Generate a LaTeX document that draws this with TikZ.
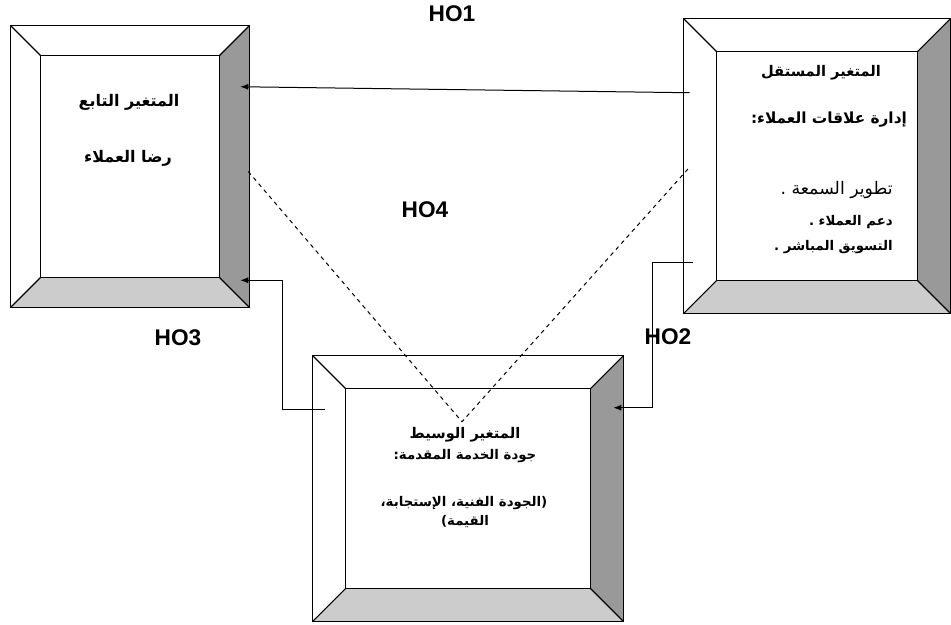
\documentclass[tikz,border=0pt]{standalone}
\usepackage{fontspec}
\setmainfont{Liberation Sans}
\newfontfamily\arabicfont[Script=Arabic]{DejaVu Sans}
\TeXXeTstate=1
\usetikzlibrary{arrows.meta,calc,fit}
\definecolor{sidegray}{HTML}{999999}
\definecolor{basegray}{HTML}{CCCCCC}
\newcommand{\artext}[1]{\beginR #1\endR}
\newcommand{\bevel}[2]{%
  \fill[sidegray] (#1.north east) -- (#1.south east) -- ([shift={(-#2,-#2)}]#1.south east) -- ([shift={(-#2,#2)}]#1.north east) -- cycle;
  \fill[basegray] (#1.south west) -- (#1.south east) -- ([shift={(-#2,-#2)}]#1.south east) -- ([shift={(#2,-#2)}]#1.south west) -- cycle;
  \draw[boxline] ([shift={(#2,#2)}]#1.north west) rectangle ([shift={(-#2,-#2)}]#1.south east);
  \draw[boxline] (#1.north west) -- ++(#2,#2) (#1.north east) -- ++(-#2,#2)
    (#1.south east) -- ++(-#2,-#2) (#1.south west) -- ++(#2,-#2);
  \draw[boxline] (#1.north west) rectangle (#1.south east);
}
\tikzset{
  boxline/.style={line width=0.8pt},
  link/.style={line width=0.75pt, -{Latex[length=6pt,width=4.5pt]}},
  guess/.style={line width=0.75pt, dashed},
  hyp/.style={font=\fontsize{17}{20}\selectfont\bfseries, inner sep=0pt},
  lbl/.style={font=\fontsize{#1}{#1}\selectfont\arabicfont\bfseries, inner sep=0pt},
  lbl/.default=10,
  item/.style={lbl=10, anchor=east},
}
\begin{document}
\begin{tikzpicture}[x=0.75pt,y=-0.75pt]
\useasboundingbox (0,0) rectangle (951,625);
\node[fit={(11,26) (249,307)}, inner sep=0pt] (dep) {};
\node[fit={(684,19) (950,313)}, inner sep=0pt] (indep) {};
\node[fit={(313,356) (623,621)}, inner sep=0pt] (med) {};
\bevel{dep}{30}
\bevel{indep}{33}
\bevel{med}{33}
\node[lbl=12] (dep-title) at (129,102) {\artext{المتغير التابع}};
\node[lbl=12] (dep-name) at (128,158) {\artext{رضا العملاء}};
\node[lbl=11] (indep-title) at (821,73) {\artext{المتغير المستقل}};
\node[lbl=11.5] (indep-name) at (829,120) {\artext{إدارة علاقات العملاء:}};
\node[item, font=\fontsize{13}{13}\selectfont\arabicfont] (indep-a) at (893,190) {\artext{تطوير السمعة .}};
\node[item] (indep-b) at (893,222) {\artext{دعم العملاء .}};
\node[item] (indep-c) at (893,247) {\artext{التسويق المباشر .}};
\node[lbl=11] (med-title) at (465,435) {\artext{المتغير الوسيط}};
\node[lbl] (med-name) at (465,456) {\artext{جودة الخدمة المقدمة:}};
\node[lbl] (med-a) at (464,503) {\artext{(الجودة الفنية، الإستجابة،}};
\node[lbl] (med-b) at (465,522) {\artext{القيمة)}};
\draw[link] ($(indep.north west)+(6,74)$) -- ($(dep.north east)+(-9,61)$);
\draw[link] ($(indep.south west)+(9,-51)$) -- ++(-40,0) |- ($(med.north east)+(-10,52)$);
\draw[link] ($(med.north west)+(12,54)$) -- ++(-42,0) |- ($(dep.south east)+(-9,-27)$);
\draw[guess] ($(dep.east)+(-1,5)$) -- ($(med.north)+(-6,66)$) -- ($(indep.west)+(6,1)$);
\node[hyp] (ho1) at (452,14) {HO1};
\node[hyp] (ho4) at (425,210) {HO4};
\node[hyp] (ho3) at (178,338) {HO3};
\node[hyp] (ho2) at (668,337) {HO2};
\end{tikzpicture}
\end{document}
